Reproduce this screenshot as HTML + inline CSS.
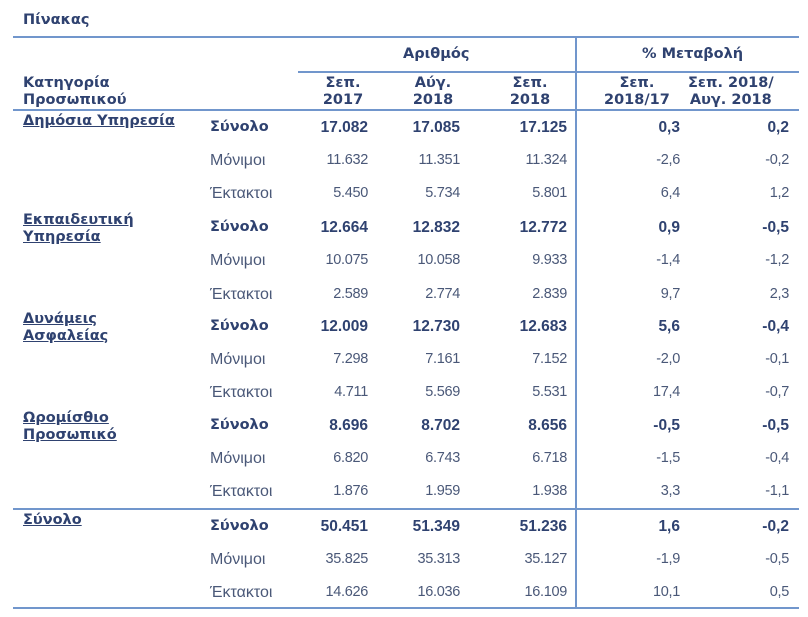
<!DOCTYPE html>
<html><head><meta charset="utf-8"><style>
body{margin:0;width:808px;height:617px;background:#fff;position:relative;overflow:hidden;font-family:"DejaVu Sans","Liberation Sans",sans-serif;color:#3d4c6e;}
.t{position:absolute;white-space:nowrap;font-size:14.5px;line-height:17px;}
.b{font-weight:bold;color:#2f4270;}
.r{text-align:right;}
.c{text-align:center;}
.u{text-decoration:underline;font-weight:bold;color:#2f4270;}
.h{position:absolute;height:2px;background:#7196cc;}
.v{position:absolute;width:2px;background:#7196cc;}
.n{color:#4a5878;}
.lab{font-family:"Liberation Sans",sans-serif;font-size:16px;}
.bn{font-family:"Liberation Sans",sans-serif;font-size:15.5px;}
.rn{font-family:"Liberation Sans",sans-serif;font-size:14.5px;letter-spacing:-0.3px;}
</style></head><body>
<div class="t b" style="left:23px;top:12px;">Πίνακας</div>
<div class="h" style="left:13px;top:36px;width:786px;"></div>
<div class="h" style="left:298px;top:71px;width:501px;"></div>
<div class="h" style="left:13px;top:109px;width:786px;"></div>
<div class="h" style="left:13px;top:508px;width:786px;"></div>
<div class="h" style="left:13px;top:607px;width:786px;"></div>
<div class="v" style="left:575px;top:36px;height:573px;"></div>

<div class="t b" style="left:403px;top:46px;">Αριθμός</div>
<div class="t b" style="left:642px;top:46px;">% Μεταβολή</div>
<div class="t b" style="left:23px;top:75px;">Κατηγορία<br>Προσωπικού</div>
<div class="t b c" style="left:313px;top:75px;width:60px;">Σεπ.<br>2017</div>
<div class="t b c" style="left:403px;top:75px;width:60px;">Αύγ.<br>2018</div>
<div class="t b c" style="left:500px;top:75px;width:60px;">Σεπ.<br>2018</div>
<div class="t b" style="left:604px;top:75px;text-align:center;">Σεπ.<br>2018/17</div>
<div class="t b" style="left:688px;top:75px;text-align:center;">Σεπ. 2018/<br>Αυγ. 2018</div>

<div class="t u" style="left:23px;top:113px;">Δημόσια Υπηρεσία</div>
<div class="t u" style="left:23px;top:212px;">Εκπαιδευτική<br>Υπηρεσία</div>
<div class="t u" style="left:23px;top:311px;">Δυνάμεις<br>Ασφαλείας</div>
<div class="t u" style="left:23px;top:410px;">Ωρομίσθιο<br>Προσωπικό</div>
<div class="t u" style="left:23px;top:512px;">Σύνολο</div>

<div id="rows"></div>
<script>
var rows=[
[127,1,"Σύνολο","17.082","17.085","17.125","0,3","0,2"],
[160,0,"Μόνιμοι","11.632","11.351","11.324","-2,6","-0,2"],
[193,0,"Έκτακτοι","5.450","5.734","5.801","6,4","1,2"],
[227,1,"Σύνολο","12.664","12.832","12.772","0,9","-0,5"],
[260,0,"Μόνιμοι","10.075","10.058","9.933","-1,4","-1,2"],
[294,0,"Έκτακτοι","2.589","2.774","2.839","9,7","2,3"],
[326,1,"Σύνολο","12.009","12.730","12.683","5,6","-0,4"],
[359,0,"Μόνιμοι","7.298","7.161","7.152","-2,0","-0,1"],
[392,0,"Έκτακτοι","4.711","5.569","5.531","17,4","-0,7"],
[425,1,"Σύνολο","8.696","8.702","8.656","-0,5","-0,5"],
[458,0,"Μόνιμοι","6.820","6.743","6.718","-1,5","-0,4"],
[491,0,"Έκτακτοι","1.876","1.959","1.938","3,3","-1,1"],
[526,1,"Σύνολο","50.451","51.349","51.236","1,6","-0,2"],
[559,0,"Μόνιμοι","35.825","35.313","35.127","-1,9","-0,5"],
[592,0,"Έκτακτοι","14.626","16.036","16.109","10,1","0,5"]];
var rights=[368,460,567,680,789],h="";
rows.forEach(function(r){
 var top=r[0]-8;
 var lc=r[1]?"t b":"t n lab";
 var nc=r[1]?"t b bn":"t n rn";
 h+='<div class="'+lc+'" style="left:210px;top:'+top+'px;">'+r[2]+'</div>';
 for(var i=0;i<5;i++){h+='<div class="'+nc+' r" style="left:'+(rights[i]-100)+'px;width:100px;top:'+top+'px;">'+r[3+i]+'</div>';}
});
document.getElementById("rows").outerHTML=h;
</script>
</body></html>
